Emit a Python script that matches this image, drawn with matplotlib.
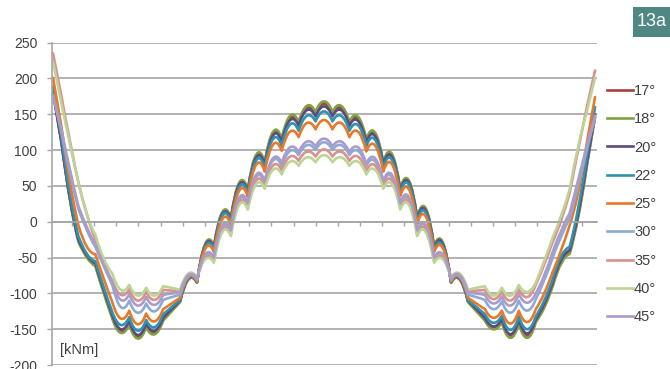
import matplotlib
matplotlib.use('Agg')
import matplotlib.pyplot as plt
from matplotlib.path import Path
from matplotlib.patches import PathPatch, Rectangle
from matplotlib.lines import Line2D

plt.rcParams['font.family'] = ['Liberation Sans', 'DejaVu Sans']

# x: angle around the ring (degrees), nodes every 5.625 deg
ANGLES = [i * 5.625 for i in range(65)]

LABELS = ['17°', '18°', '20°', '22°', '25°', '30°', '35°', '40°', '45°']

m17 = [182, 112, 32, -26, -48, -60, -98, -133,
       -153, -141, -161, -145, -155, -136, -124, -111, -80, -85,
       -31, -35, 13, 4, 54, 44, 92, 82, 124, 114, 145, 137, 159, 150, 165,
       150, 159, 137, 144, 113, 123, 82, 93, 45, 57, 5, 18, -36, -29,
       -85, -80, -111, -124, -136, -148, -138, -160, -140, -159,
       -138, -118, -88, -56, -43, 8, 78, 146]
m18 = [183, 112, 30, -28, -50, -62, -100, -135,
       -155, -143, -163, -147, -157, -138, -125, -112, -80, -85,
       -30, -34, 14, 5, 55, 45, 94, 83, 126, 116, 148, 139, 162, 153, 168,
       153, 162, 139, 147, 115, 125, 83, 95, 46, 58, 6, 19, -35, -28,
       -85, -80, -112, -125, -138, -150, -140, -162, -142, -162,
       -140, -120, -90, -58, -45, 5, 75, 148]
m20 = [180, 110, 32, -25, -47, -58, -96, -130,
       -150, -138, -158, -142, -152, -134, -122, -110, -79, -84,
       -32, -36, 11, 3, 52, 42, 90, 80, 121, 112, 142, 134, 156, 147, 161,
       147, 156, 134, 141, 111, 120, 80, 91, 43, 55, 4, 16, -37, -30,
       -84, -79, -110, -122, -134, -146, -136, -157, -137, -156,
       -136, -115, -85, -53, -40, 10, 80, 150]
m22 = [188, 118, 38, -20, -45, -55, -92, -126,
       -144, -133, -152, -137, -147, -129, -119, -109, -78, -84,
       -34, -38, 9, 0, 49, 40, 86, 76, 116, 106, 136, 127, 148, 140, 154,
       140, 148, 127, 135, 106, 115, 76, 87, 40, 52, 1, 13, -39, -33,
       -84, -78, -109, -119, -129, -141, -131, -151, -132, -150,
       -132, -110, -80, -48, -35, 18, 90, 160]
m25 = [201, 132, 55, -5, -35, -45, -80, -112,
       -135, -124, -143, -128, -139, -122, -114, -106, -77, -83,
       -37, -42, 4, -4, 44, 35, 80, 70, 108, 99, 126, 118, 138, 129, 142,
       129, 138, 118, 126, 98, 107, 70, 81, 36, 46, -3, 8, -42, -36,
       -83, -77, -106, -114, -122, -134, -124, -142, -124, -140,
       -122, -100, -70, -40, -5, 40, 108, 174]
m30 = [177, 125, 68, 18, -12, -35, -62, -88,
       -119, -110, -127, -114, -125, -109, -105, -102, -75, -81,
       -47, -51, -7, -14, 31, 24, 63, 55, 86, 78, 99, 93, 107, 100, 111,
       100, 107, 93, 99, 78, 85, 55, 63, 24, 32, -14, -6, -52, -46,
       -81, -75, -102, -105, -109, -122, -111, -127, -110, -124,
       -108, -82, -50, -20, 5, 50, 100, 145]
m35 = [235, 175, 112, 55, 10, -25, -58, -82,
       -102, -94, -110, -98, -109, -95, -96, -97, -73, -79,
       -50, -54, -11, -17, 27, 20, 58, 50, 79, 72, 91, 85, 98, 91, 101,
       91, 98, 85, 91, 71, 79, 50, 58, 20, 28, -17, -10, -55, -49,
       -79, -73, -97, -96, -95, -108, -97, -110, -94, -105,
       -88, -60, -28, 2, 40, 100, 158, 211]
m40 = [223, 165, 108, 55, 10, -18, -52, -72,
       -95, -88, -103, -92, -103, -90, -92, -95, -72, -78,
       -52, -57, -14, -20, 24, 17, 53, 46, 73, 66, 84, 78, 90, 83, 93,
       83, 90, 78, 84, 66, 73, 46, 53, 17, 24, -20, -14, -57, -52,
       -78, -72, -95, -92, -90, -103, -92, -103, -88, -98,
       -85, -55, -22, 8, 45, 105, 152, 201]
m45 = [176, 128, 72, 22, -8, -32, -60, -84,
       -109, -101, -117, -105, -116, -102, -100, -99, -74, -80,
       -45, -50, -5, -12, 34, 26, 66, 57, 89, 82, 104, 97, 112, 105, 116,
       105, 112, 97, 104, 81, 89, 57, 66, 26, 35, -12, -4, -50, -45,
       -80, -74, -99, -100, -102, -114, -104, -117, -101, -113,
       -100, -75, -42, -12, 12, 58, 105, 148]

SERIES = [m17, m18, m20, m22, m25, m30, m35, m40, m45]
COLORS = ['#A5403C', '#82A143', '#5E4A82', '#2E93AE', '#E8782A',
          '#8DAAD6', '#DA908D', '#BCD596', '#AA9CC9']

Y_TICKS = [-200, -150, -100, -50, 0, 50, 100, 150, 200, 250]

GRID = '#A6A6A6'
TXT = '#404040'


def series_path(xs, ys):
    """Smooth arches through rib nodes (even), sharp corners at odd nodes."""
    verts = [(xs[0], ys[0]), (xs[1], ys[1])]
    codes = [Path.MOVETO, Path.LINETO]
    for k in range(1, len(xs) - 2, 2):
        xa, ya = xs[k], ys[k]
        xh, yh = xs[k + 1], ys[k + 1]
        xb, yb = xs[k + 2], ys[k + 2]
        cx = 2 * xh - (xa + xb) / 2
        cy = 2 * yh - (ya + yb) / 2
        verts += [(cx, cy), (xb, yb)]
        codes += [Path.CURVE3, Path.CURVE3]
    verts.append((xs[-1], ys[-1]))
    codes.append(Path.LINETO)
    return Path(verts, codes)


fig = plt.figure(figsize=(6.7, 3.69), dpi=100)
W, H = 670, 369
ax = fig.add_axes([52 / W, 3.8 / H, 545 / W, 322.7 / H])

ax.set_ylim(-200, 250)
ax.set_xlim(-0.66, 361.3)

ax.set_yticks(Y_TICKS)
ax.set_yticklabels([str(v) for v in Y_TICKS])
ax.yaxis.grid(True, color=GRID, lw=1.2)
ax.set_axisbelow(True)

# category-axis tick marks on the zero line
xt = [12.6 + 14.72 * k for k in range(24)]
ax.set_xticks(xt)
ax.set_xticklabels([])

for s in ['top', 'right']:
    ax.spines[s].set_visible(False)
ax.spines['left'].set_color(GRID)
ax.spines['left'].set_linewidth(1.2)
ax.spines['bottom'].set_position(('data', 0))
ax.spines['bottom'].set_color(GRID)
ax.spines['bottom'].set_linewidth(1.2)

ax.tick_params(axis='y', direction='out', length=3.6, width=1.0, color=GRID,
               labelsize=10, labelcolor=TXT, pad=7)
ax.tick_params(axis='x', direction='out', length=3, width=1.0, color=GRID)

for vals, col in zip(SERIES, COLORS):
    p = series_path(ANGLES, vals)
    ax.add_patch(PathPatch(p, fill=False, edgecolor=col, lw=1.9,
                           joinstyle='round', capstyle='round'))

fig.text(60 / W, 1 - 350 / H, '[kNm]', ha='left', va='center',
         fontsize=10.5, color=TXT)

handles = [Line2D([0], [0], color=c, lw=1.9) for c in COLORS]
fig.legend(handles, LABELS, loc='upper left',
           bbox_to_anchor=(607 / W, 1 - 84 / H), frameon=False,
           handlelength=1.75, handletextpad=0.1, labelspacing=0.98,
           fontsize=10.5, labelcolor=TXT, borderpad=0, borderaxespad=0)

fig.patches.append(Rectangle((633 / W, 1 - 37 / H), 37 / W, 30 / H,
                             transform=fig.transFigure, facecolor='#4F8783',
                             edgecolor='none'))
fig.text(651.5 / W, 1 - 22 / H, '13a', ha='center', va='center',
         color='white', fontsize=13)

fig.savefig('out.png', dpi=100)
